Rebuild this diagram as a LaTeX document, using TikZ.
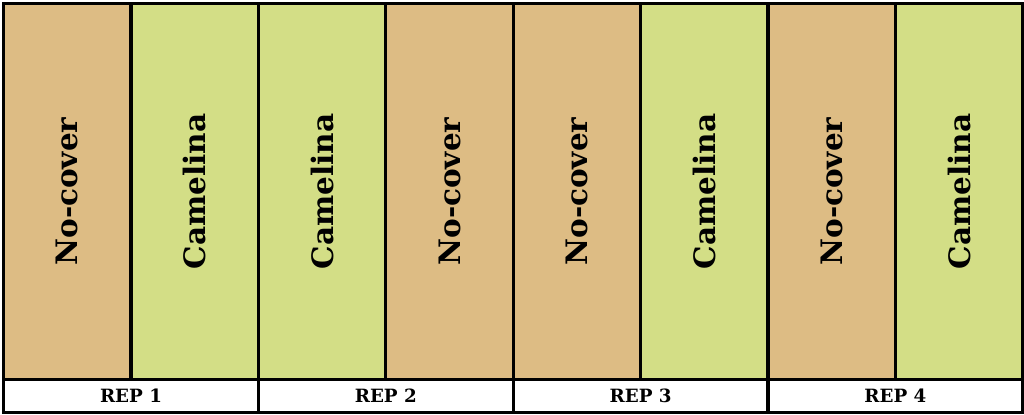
\documentclass[tikz,border=0pt]{standalone}
\usepackage{fontspec}
\setmainfont{DejaVu Serif}
\usetikzlibrary{positioning}
\definecolor{bare}{HTML}{DDBC84}
\definecolor{crop}{HTML}{D3DE86}
\tikzstyle{plot} = [rectangle, draw=black, line width=2.3pt, minimum width=3.185cm, minimum height=9.4cm, anchor=north west, inner sep=0pt]
\tikzstyle{rep} = [rectangle, draw=black, line width=2.3pt, fill=white, minimum width=6.37cm, minimum height=0.83cm, anchor=north west, inner sep=0pt, font=\bfseries\fontsize{13}{13}\selectfont]
\tikzstyle{lbl} = [rotate=90, font=\bfseries\fontsize{21}{21}\selectfont]

\begin{document}
\begin{tikzpicture}[y=-1cm]
            \useasboundingbox (0,0) rectangle (25.6,10.375);

            % plots
            \foreach \i/\t/\c in {0/No-cover/bare, 1/Camelina/crop, 2/Camelina/crop, 3/No-cover/bare,
                                  4/No-cover/bare, 5/Camelina/crop, 6/No-cover/bare, 7/Camelina/crop} {
              \node[plot, fill=\c] (p\i) at (0.05+3.185*\i, 0.05) {};
              \node[lbl] (t\i) at (p\i.center) {\t};
            }

            % replicates
            \foreach \r in {1,...,4} {
              \node[rep] (r\r) at (0.05+6.37*\r-6.37, 9.45) {REP \r};
            }

\end{tikzpicture}
\end{document}
